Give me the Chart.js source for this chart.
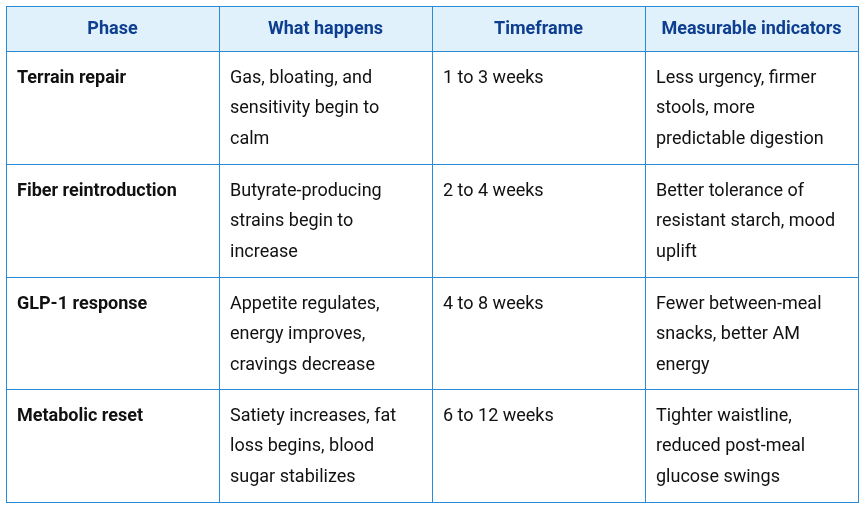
<!DOCTYPE html>
<html>
<head>
<meta charset="utf-8">
<script src="https://cdn.jsdelivr.net/npm/chart.js@4/dist/chart.umd.min.js"></script>
<style>
    html, body { margin: 0; padding: 0; background: #fff; }
    #wrap { width: 867px; height: 510px; }
</style>
</head>
<body>
<div id="wrap"><canvas id="tabela" width="867" height="510"></canvas></div>
<script>
const colunas = ["Phase", "What happens", "Timeframe", "Measurable indicators"];

const fases = ["Terrain repair", "Fiber reintroduction", "GLP-1 response", "Metabolic reset"];

const oQueAcontece = [
    "Gas, bloating, and sensitivity begin to calm",
    "Butyrate-producing strains begin to increase",
    "Appetite regulates, energy improves, cravings decrease",
    "Satiety increases, fat loss begins, blood sugar stabilizes"
];

const prazos = ["1 to 3 weeks", "2 to 4 weeks", "4 to 8 weeks", "6 to 12 weeks"];

const indicadores = [
    "Less urgency, firmer stools, more predictable digestion",
    "Better tolerance of resistant starch, mood uplift",
    "Fewer between-meal snacks, better AM energy",
    "Tighter waistline, reduced post-meal glucose swings"
];

const linhas = [fases, oQueAcontece, prazos, indicadores];

const corBorda = "#2a8ad6";
const corFundoCabecalho = "#e1f1fb";
const corCabecalho = "#0d3e8f";
const corTexto = "#111111";
const fonte = "Roboto";
const alturaCabecalho = 0.4; // em unidades de linha

function quebrarTexto(ctx, texto, largura) {
    const palavras = texto.split(" ");
    const saida = [];
    let atual = "";
    palavras.forEach(p => {
        const teste = atual ? atual + " " + p : p;
        if (atual && ctx.measureText(teste).width > largura) {
            saida.push(atual);
            atual = p;
        } else {
            atual = teste;
        }
    });
    if (atual) saida.push(atual);
    return saida;
}

const desenharTabela = {
    id: "desenharTabela",
    afterDraw(chart) {
        const ctx = chart.ctx;
        const x = chart.scales.x;
        const y = chart.scales.y;
        const px = v => Math.round(x.getPixelForValue(v));
        const py = v => Math.round(y.getPixelForValue(v));

        ctx.save();

        // fundo do cabecalho
        ctx.fillStyle = corFundoCabecalho;
        ctx.fillRect(px(0), py(-alturaCabecalho), px(colunas.length) - px(0), py(0) - py(-alturaCabecalho));

        // textos do cabecalho
        ctx.fillStyle = corCabecalho;
        ctx.font = "bold 18px " + fonte;
        ctx.textAlign = "center";
        ctx.textBaseline = "alphabetic";
        colunas.forEach((c, i) => {
            const cx = (x.getPixelForValue(i) + x.getPixelForValue(i + 1)) / 2;
            ctx.fillText(c, cx, py(-alturaCabecalho) + 28);
        });

        // celulas
        ctx.textAlign = "left";
        ctx.fillStyle = corTexto;
        for (let r = 0; r < fases.length; r++) {
            linhas.forEach((coluna, c) => {
                ctx.font = (c === 0 ? "bold " : "") + "18px " + fonte;
                const esquerda = x.getPixelForValue(c) + 11;
                const largura = x.getPixelForValue(c + 1) - x.getPixelForValue(c) - 24;
                const partes = quebrarTexto(ctx, coluna[r], largura);
                partes.forEach((t, k) => {
                    ctx.fillText(t, esquerda, py(r) + 31.5 + k * 30.6);
                });
            });
        }

        // bordas
        ctx.strokeStyle = corBorda;
        ctx.lineWidth = 1;
        ctx.beginPath();
        for (let c = 0; c <= colunas.length; c++) {
            ctx.moveTo(px(c) + 0.5, py(-alturaCabecalho));
            ctx.lineTo(px(c) + 0.5, py(fases.length) + 1);
        }
        const bordasY = [-alturaCabecalho, 0, 1, 2, 3, 4];
        bordasY.forEach(v => {
            ctx.moveTo(px(0), py(v) + 0.5);
            ctx.lineTo(px(colunas.length) + 1, py(v) + 0.5);
        });
        ctx.stroke();

        ctx.restore();
    }
};

new Chart(document.getElementById("tabela"), {
    type: "scatter",
    data: { datasets: [{ data: [] }] },
    options: {
        responsive: false,
        animation: false,
        devicePixelRatio: 1,
        layout: { padding: { left: 6, right: 9, top: 6, bottom: 8 } },
        plugins: { legend: { display: false }, tooltip: { enabled: false } },
        scales: {
            x: { type: "linear", min: 0, max: colunas.length, display: false },
            y: { type: "linear", min: -alturaCabecalho, max: fases.length, reverse: true, display: false }
        }
    },
    plugins: [desenharTabela]
});
</script>
</body>
</html>
